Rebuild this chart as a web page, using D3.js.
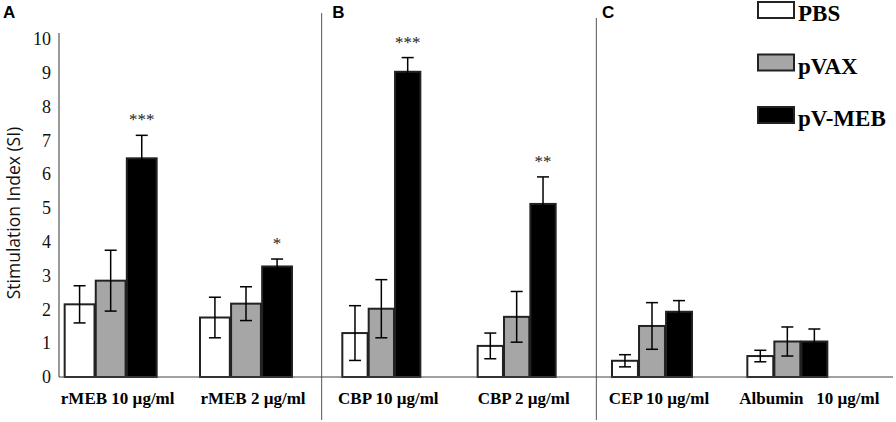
<!DOCTYPE html>
<html>
<head>
<meta charset="utf-8">
<script src="https://cdn.jsdelivr.net/npm/d3@7"></script>
<style>
  body { margin: 0; background: #fff; }
  svg { display: block; }
</style>
</head>
<body>
<svg id="chart" width="896" height="422"></svg>
<script>
// categories and series
var categories = ["rMEB 10 µg/ml", "rMEB 2 µg/ml", "CBP 10 µg/ml", "CBP 2 µg/ml", "CEP 10 µg/ml", "Albumin   10 µg/ml"];
var seriesNames = ["PBS", "pVAX", "pV-MEB"];
var pbsValues   = [2.15, 1.76, 1.30, 0.92, 0.48, 0.62];
var pbsErrors   = [0.55, 0.60, 0.81, 0.38, 0.18, 0.17];
var pvaxValues  = [2.85, 2.17, 2.02, 1.78, 1.51, 1.05];
var pvaxErrors  = [0.90, 0.50, 0.86, 0.75, 0.69, 0.43];
var pvmebValues = [6.47, 3.27, 9.03, 5.12, 1.93, 1.05];
var pvmebErrors = [0.68, 0.22, 0.42, 0.80, 0.33, 0.37];
var stars = ["***", "*", "***", "**", "", ""];
var panelLetters = ["A", "B", "C"];
var yTicks = [0, 1, 2, 3, 4, 5, 6, 7, 8, 9, 10];

var fills = ["#ffffff", "#a6a6a6", "#000000"];
var groupWidths = [92, 78, 80]; // bar group width per panel (A, B, C)

var svg = d3.select("#chart");

var x0 = d3.scaleBand()
  .domain(categories)
  .range([43, 855])
  .paddingInner(0.36)
  .paddingOuter(0.18);

function center(cat) { return x0(cat) + x0.bandwidth() / 2; }

// inner scale per panel, centred on the category band
function inner(cat) {
  var w = groupWidths[Math.floor(categories.indexOf(cat) / 2)];
  return d3.scaleBand()
    .domain(seriesNames)
    .range([center(cat) - w / 2, center(cat) + w / 2])
    .paddingInner(0.04);
}

var y = d3.scaleLinear()
  .domain([0, 10])
  .range([377, 39]);

// build per bar rows
var rows = [];
categories.forEach(function(c, i) {
  rows.push({cat: c, s: "PBS", v: pbsValues[i], e: pbsErrors[i], k: 0});
  rows.push({cat: c, s: "pVAX", v: pvaxValues[i], e: pvaxErrors[i], k: 1});
  rows.push({cat: c, s: "pV-MEB", v: pvmebValues[i], e: pvmebErrors[i], k: 2});
});

// panel dividers (between category pairs)
var dividers = [1, 3];
function dividerX(d) {
  return (center(categories[d]) + center(categories[d + 1])) / 2 + (d === 1 ? 8 : 12);
}
svg.selectAll("line.divider")
  .data(dividers)
  .enter()
  .append("line")
  .attr("class", "divider")
  .attr("x1", dividerX)
  .attr("x2", dividerX)
  .attr("y1", function(d, i) { return i === 0 ? 13 : 18; })
  .attr("y2", 420)
  .style("stroke", "#555")
  .style("stroke-width", 1);

// y axis
var yAxis = d3.axisLeft(y)
  .tickValues(yTicks)
  .tickSize(0)
  .tickPadding(8);

var yg = svg.append("g")
  .attr("transform", "translate(59,0)")
  .call(yAxis);
yg.select(".domain").remove();
yg.selectAll("text")
  .style("font-family", "'Liberation Serif', 'Times New Roman', serif")
  .style("font-size", "18px")
  .style("fill", "#111");

svg.append("line")
  .attr("x1", 59).attr("x2", 59)
  .attr("y1", 33).attr("y2", y(0))
  .style("stroke", "#555")
  .style("stroke-width", 1.2);

svg.append("text")
  .attr("transform", "translate(20," + 213 + ") rotate(-90)")
  .attr("text-anchor", "middle")
  .style("font-family", "'Open Sans', sans-serif")
  .style("font-size", "17.5px")
  .style("fill", "#111")
  .text("Stimulation Index (SI)");

// bars
svg.selectAll("rect.bar")
  .data(rows)
  .enter()
  .append("rect")
  .attr("class", "bar")
  .attr("x", function(d) { return inner(d.cat)(d.s); })
  .attr("y", function(d) { return y(d.v); })
  .attr("width", function(d) { return inner(d.cat).bandwidth(); })
  .attr("height", function(d) { return y(0) - y(d.v); })
  .style("fill", function(d) { return fills[d.k]; })
  .style("stroke", "#222")
  .style("stroke-width", 2);

// error bars
var errG = svg.append("g");
var capW = 6;
rows.forEach(function(d) {
  var xs = inner(d.cat);
  var cx = xs(d.s) + xs.bandwidth() / 2;
  errG.append("line")
    .attr("x1", cx).attr("x2", cx)
    .attr("y1", y(d.v + d.e)).attr("y2", y(d.v - d.e))
    .style("stroke", "#000").style("stroke-width", 1.5);
  [d.v + d.e, d.v - d.e].forEach(function(t) {
    errG.append("line")
      .attr("x1", cx - capW).attr("x2", cx + capW)
      .attr("y1", y(t)).attr("y2", y(t))
      .style("stroke", "#000").style("stroke-width", 1.5);
  });
});

// significance stars
svg.selectAll("text.star")
  .data(categories)
  .enter()
  .append("text")
  .attr("class", "star")
  .attr("x", function(d) { var xs = inner(d); return xs("pV-MEB") + xs.bandwidth() / 2; })
  .attr("y", function(d, i) { return y(pvmebValues[i] + pvmebErrors[i]) - 10; })
  .attr("text-anchor", "middle")
  .style("font-family", "'Liberation Serif', serif")
  .style("font-size", "17px")
  .style("fill", "#222")
  .text(function(d, i) { return stars[i]; });

// x axis line
svg.append("line")
  .attr("x1", 59).attr("x2", 893)
  .attr("y1", y(0)).attr("y2", y(0))
  .style("stroke", "#444")
  .style("stroke-width", 1.2);

// category labels
svg.selectAll("text.cat")
  .data(categories)
  .enter()
  .append("text")
  .attr("class", "cat")
  .attr("x", function(d, i) { return center(d) + (i === 5 ? 22 : 7); })
  .attr("y", 404)
  .attr("text-anchor", "middle")
  .style("font-family", "'Liberation Serif', 'Times New Roman', serif")
  .style("font-weight", "bold")
  .style("font-size", "17px")
  .style("white-space", "pre")
  .attr("xml:space", "preserve")
  .text(function(d) { return d; });

// panel letters
var panelStarts = [0, 2, 4];
svg.selectAll("text.panel")
  .data(panelLetters)
  .enter()
  .append("text")
  .attr("class", "panel")
  .attr("x", function(d, i) { return i === 0 ? 3 : inner(categories[panelStarts[i]])("PBS") - 10; })
  .attr("y", 18)
  .style("font-family", "'Liberation Sans', Arial, sans-serif")
  .style("font-weight", "bold")
  .style("font-size", "17px")
  .text(function(d) { return d; });

// legend
var legend = svg.append("g")
  .attr("transform", "translate(758,2)");
var lg = legend.selectAll("g")
  .data(seriesNames)
  .enter()
  .append("g")
  .attr("transform", function(d, i) { return "translate(0," + (i * 52.5) + ")"; });
lg.append("rect")
  .attr("width", 36)
  .attr("height", 16)
  .style("fill", function(d, i) { return fills[i]; })
  .style("stroke", "#222")
  .style("stroke-width", 2);
lg.append("text")
  .attr("x", 40)
  .attr("y", 19)
  .style("font-family", "'Liberation Serif', 'Times New Roman', serif")
  .style("font-weight", "bold")
  .style("font-size", "23px")
  .text(function(d) { return d; });
</script>
</body>
</html>
